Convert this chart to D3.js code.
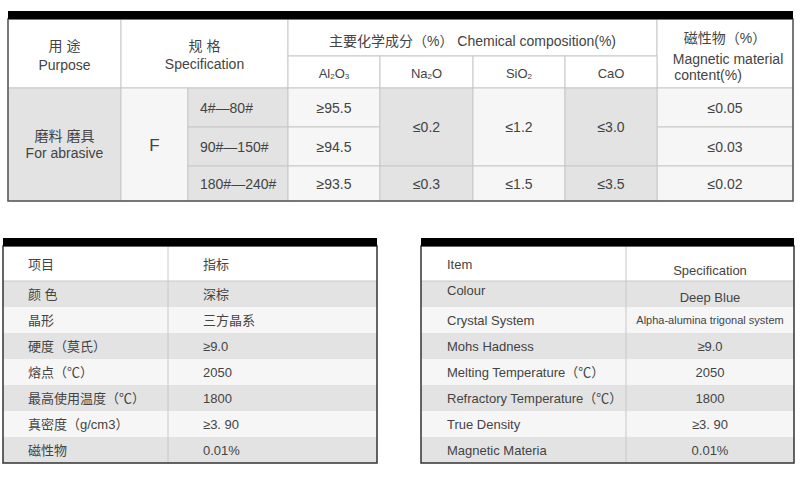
<!DOCTYPE html>
<html><head><meta charset="utf-8">
<script src="https://cdn.jsdelivr.net/npm/d3@7"></script>
<style>body{margin:0;background:#fff}text{font-family:"Liberation Sans","Noto Sans CJK SC",sans-serif;fill:#444}</style>
</head><body><svg id="c" width="801" height="480"></svg>
<script>
// top table data
var grades = ["4#—80#", "90#—150#", "180#—240#"];
var al2o3 = ["≥95.5", "≥94.5", "≥93.5"];
var na2o = ["≤0.2", "≤0.3"];
var sio2 = ["≤1.2", "≤1.5"];
var cao = ["≤3.0", "≤3.5"];
var magnetic = ["≤0.05", "≤0.03", "≤0.02"];
// bottom tables
var itemsCn = ["颜 色", "晶形", "硬度（莫氏）", "熔点（℃）", "最高使用温度（℃）", "真密度（g/cm3）", "磁性物"];
var specsCn = ["深棕", "三方晶系", "≥9.0", "2050", "1800", "≥3. 90", "0.01%"];
var itemsEn = ["Colour", "Crystal System", "Mohs Hadness", "Melting Temperature（℃）", "Refractory Temperature（℃）", "True Density", "Magnetic Materia"];
var specsEn = ["Deep Blue", "Alpha-alumina trigonal system", "≥9.0", "2050", "1800", "≥3. 90", "0.01%"];

var svg = d3.select("#c");
var DARK = "#e3e3e3", LIGHT = "#f6f6f6", LINE = "#c8c8c8";

function cell(g, x0, y0, x1, y1, fill) {
    g.append("rect").attr("x", x0).attr("y", y0).attr("width", x1 - x0).attr("height", y1 - y0)
        .attr("fill", fill).attr("stroke", LINE).attr("stroke-width", 1);
}
function txt(g, x, y, s, size, anchor) {
    return g.append("text").attr("x", x).attr("y", y).attr("font-size", size || 14)
        .attr("text-anchor", anchor || "middle").attr("dominant-baseline", "central").text(s);
}

// ---- top table ----
var topG = svg.append("g");
var cx = [8, 121, 188, 288, 380, 473, 565, 657, 793];
var ry = [19, 56, 88, 127, 166, 201];
var mid = function (a, b) { return (a + b) / 2; };

cell(topG, cx[0], ry[0], cx[1], ry[2], "#fff");
cell(topG, cx[1], ry[0], cx[3], ry[2], "#fff");
cell(topG, cx[3], ry[0], cx[7], ry[1], "#fff");
cell(topG, cx[7], ry[0], cx[8], ry[2], "#fff");
[0, 1, 2, 3].forEach(function (i) { cell(topG, cx[3 + i], ry[1], cx[4 + i], ry[2], "#fff"); });

txt(topG, mid(cx[0], cx[1]), 46, "用  途", 14); txt(topG, mid(cx[0], cx[1]), 65, "Purpose", 14);
txt(topG, mid(cx[1], cx[3]), 46, "规  格", 14); txt(topG, mid(cx[1], cx[3]), 64, "Specification", 14);
txt(topG, mid(cx[3], cx[7]), 41, "主要化学成分（%）  Chemical composition(%)", 14);
txt(topG, 725, 38, "磁性物（%）", 14);
txt(topG, 728, 59, "Magnetic material", 14); txt(topG, 708, 75, "content(%)", 14);
var f1 = txt(topG, mid(cx[3], cx[4]), 73, "", 13);
f1.append("tspan").text("Al"); f1.append("tspan").attr("font-size", 8).attr("dy", 3).text("2");
f1.append("tspan").attr("dy", -3).text("O"); f1.append("tspan").attr("font-size", 8).attr("dy", 3).text("3");
var f2 = txt(topG, mid(cx[4], cx[5]), 73, "", 13);
f2.append("tspan").text("Na"); f2.append("tspan").attr("font-size", 8).attr("dy", 3).text("2");
f2.append("tspan").attr("dy", -3).text("O");
var f3 = txt(topG, mid(cx[5], cx[6]), 73, "", 13);
f3.append("tspan").text("SiO"); f3.append("tspan").attr("font-size", 8).attr("dy", 3).text("2");
txt(topG, mid(cx[6], cx[7]), 73, "CaO", 13);

cell(topG, cx[0], ry[2], cx[1], ry[5], DARK);
cell(topG, cx[1], ry[2], cx[2], ry[5], LIGHT);
txt(topG, mid(cx[0], cx[1]), 136, "磨料  磨具", 14); txt(topG, mid(cx[0], cx[1]), 153, "For abrasive", 14);
txt(topG, mid(cx[1], cx[2]), 145, "F", 17);
grades.forEach(function (d, i) {
    cell(topG, cx[2], ry[2 + i], cx[3], ry[3 + i], DARK);
    txt(topG, cx[2] + 12, mid(ry[2 + i], ry[3 + i]), d, 14, "start");
    cell(topG, cx[3], ry[2 + i], cx[4], ry[3 + i], LIGHT);
    txt(topG, mid(cx[3], cx[4]), mid(ry[2 + i], ry[3 + i]), al2o3[i], 14);
    cell(topG, cx[7], ry[2 + i], cx[8], ry[3 + i], LIGHT);
    txt(topG, mid(cx[7], cx[8]), mid(ry[2 + i], ry[3 + i]), magnetic[i], 14);
});
[na2o, sio2, cao].forEach(function (col, j) {
    var fill = j === 1 ? LIGHT : DARK;
    cell(topG, cx[4 + j], ry[2], cx[5 + j], ry[4], fill);
    txt(topG, mid(cx[4 + j], cx[5 + j]), mid(ry[2], ry[4]), col[0], 14);
    cell(topG, cx[4 + j], ry[4], cx[5 + j], ry[5], fill);
    txt(topG, mid(cx[4 + j], cx[5 + j]), mid(ry[4], ry[5]), col[1], 14);
});
topG.append("rect").attr("x", cx[0]).attr("y", ry[0]).attr("width", cx[8] - cx[0]).attr("height", ry[5] - ry[0])
    .attr("fill", "none").attr("stroke", "#555").attr("stroke-width", 1.5);
topG.append("rect").attr("x", cx[0]).attr("y", 11).attr("width", cx[8] - cx[0]).attr("height", 8).attr("fill", "#000");

// ---- bottom tables ----
function smallTable(x0, x1, xd, head, items, specs, leftX, rightX, rightAnchor, headY) {
    var g = svg.append("g");
    var y = d3.scaleLinear().domain([0, items.length]).range([281, 463]);
    g.append("rect").attr("x", x0).attr("y", 246).attr("width", x1 - x0).attr("height", 35).attr("fill", "#fff");
    items.forEach(function (d, i) {
        g.append("rect").attr("x", x0).attr("y", y(i)).attr("width", x1 - x0).attr("height", y(i + 1) - y(i))
            .attr("fill", i % 2 === 0 ? DARK : LIGHT);
        txt(g, leftX, mid(y(i), y(i + 1)) - (rightAnchor === "middle" && i === 0 ? 4 : 0), d, 13, "start");
        txt(g, rightX, mid(y(i), y(i + 1)) + (rightAnchor === "middle" && i === 0 ? 3 : 0), specs[i],
            i === 1 && rightAnchor === "middle" ? 11 : 13, rightAnchor);
    });
    g.append("line").attr("x1", x0).attr("x2", x1).attr("y1", 281).attr("y2", 281).attr("stroke", LINE);
    g.append("line").attr("x1", xd).attr("x2", xd).attr("y1", 246).attr("y2", 463).attr("stroke", LINE);
    txt(g, leftX, 264, head[0], 13, "start");
    txt(g, rightX, headY, head[1], 13, rightAnchor);
    g.append("rect").attr("x", x0).attr("y", 246).attr("width", x1 - x0).attr("height", 217)
        .attr("fill", "none").attr("stroke", "#333").attr("stroke-width", 1.5);
    g.append("rect").attr("x", x0).attr("y", 238).attr("width", x1 - x0).attr("height", 8).attr("fill", "#000");
}
smallTable(3, 377, 168, ["项目", "指标"], itemsCn, specsCn, 28, 203, "start", 264);
smallTable(421, 794, 626, ["Item", "Specification"], itemsEn, specsEn, 447, 710, "middle", 270);
</script></body></html>
